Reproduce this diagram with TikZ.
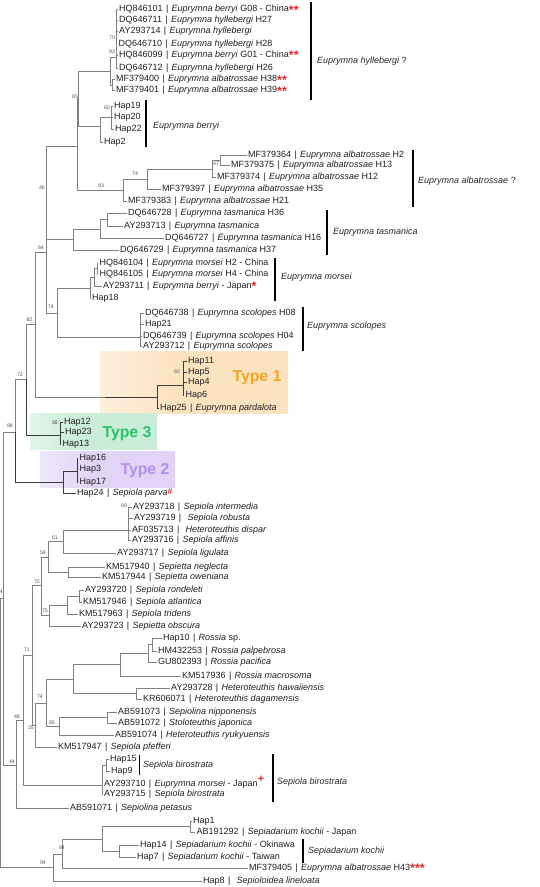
\documentclass[tikz,border=0pt]{standalone}
\usepackage{fontspec}
\setmainfont{Liberation Sans}
\definecolor{treegray}{HTML}{808080}
\definecolor{darkline}{HTML}{3C3C3C}
\definecolor{bsgray}{HTML}{555555}
\definecolor{markred}{HTML}{E4252B}
\definecolor{tonefill}{HTML}{FCE3C0}
\definecolor{tonetext}{HTML}{F5A524}
\definecolor{tthreefill}{HTML}{C9EDD8}
\definecolor{tthreetext}{HTML}{2DC36A}
\definecolor{ttwofill}{HTML}{E2D4F6}
\definecolor{ttwotext}{HTML}{B48FEC}
\pgfdeclarehorizontalshading{shadeone}{100bp}{color(0bp)=(white); color(45bp)=(tonefill); color(100bp)=(tonefill)}
\pgfdeclarehorizontalshading{shadethree}{100bp}{color(0bp)=(white); color(45bp)=(tthreefill); color(100bp)=(tthreefill)}
\pgfdeclarehorizontalshading{shadetwo}{100bp}{color(0bp)=(white); color(45bp)=(ttwofill); color(100bp)=(ttwofill)}
\newcommand\leaffont{\fontsize{9}{10}\selectfont}
\newcommand\cladefont{\fontsize{9}{10}\selectfont\itshape}
\newcommand\bsfont{\fontsize{5.2}{6}\selectfont}
\newcommand\bsep{\hspace{3.3pt}|\hspace{3.3pt}}
\newcommand\stars[1]{\textcolor{markred}{\smash{\raisebox{-2.5pt}{\fontsize{12.5}{12}\selectfont\bfseries #1}}}}
\newcommand\plusmark{\textcolor{markred}{\smash{\raisebox{4pt}{\fontsize{11}{11}\selectfont\bfseries +}}}}
\newcommand\hashmark{\textcolor{markred}{\smash{\raisebox{1pt}{\fontsize{8.5}{9}\selectfont\bfseries\#}}}}
\newcommand\lf[4]{\node[leaf] (#1) at (#2,#3) {#4};}
\newcommand\bsl[4]{\node[bs] (#1) at (#2,#3) {#4};}
\tikzset{
  br/.style={draw=treegray, line width=0.8pt},
  brd/.style={draw=darkline, line width=0.8pt},
  leaf/.style={anchor=west, inner xsep=1.5pt, inner ysep=0pt, font=\leaffont, text height=6.2pt, text depth=1.8pt, text=black!88},
  bs/.style={font=\bsfont, text=bsgray, inner sep=0pt},
  clade/.style={anchor=west, font=\cladefont, inner sep=0pt, text=black!85},
  bar/.style={line width=2.4pt, draw=black},
  thinbar/.style={line width=0.9pt, draw=black},
  typelab/.style={font=\fontsize{15.8}{16}\selectfont\bfseries, inner sep=0pt}
}
\begin{document}
\begin{tikzpicture}[x=1pt,y=-1pt]
\useasboundingbox (0,0) rectangle (540,887);
% type boxes
\shade[shading=shadeone] (100,351) rectangle (288,413);
\shade[shading=shadethree] (30,413) rectangle (157,449);
\shade[shading=shadetwo] (40,451) rectangle (175,487);
\node[typelab, text=tonetext] (ty1) at (257,378) {Type 1};
\node[typelab, text=tthreetext] (ty3) at (127,434) {Type 3};
\node[typelab, text=ttwotext] (ty2) at (145,471) {Type 2};

% internal nodes
\coordinate (root) at (0.4,731);
\coordinate (Nd) at (3,598);
\coordinate (n88) at (15,432);
\coordinate (n72) at (26,379);
\coordinate (n82) at (35,324);
\coordinate (n64) at (46,252);
\coordinate (n46) at (46.8,192);
\coordinate (nOut) at (77.5,146);
\coordinate (n65) at (78.5,98.5);
\coordinate (n110) at (110,71);
\coordinate (nh6) at (116,57);
\coordinate (n112) at (112,85);
\coordinate (n100b) at (100,126);
\coordinate (n111) at (111,117.5);
\coordinate (n93) at (123,190);
\coordinate (n74a) at (147,179);
\coordinate (n212) at (212,169);
\coordinate (n220) at (220,160);
\coordinate (n73t) at (73,239.5);
\coordinate (n100t) at (100,229);
\coordinate (n107t) at (107,219.5);
\coordinate (n74) at (57,313);
\coordinate (n90) at (90,288);
\coordinate (n94m) at (94,277);
\coordinate (n97) at (97,268.5);
\coordinate (n140) at (140,337);
\coordinate (n157) at (157,397);
\coordinate (n183) at (183,385);
\coordinate (n60t) at (60,435);
\coordinate (n63t) at (63,482);
\coordinate (n77) at (77,471);
\coordinate (n44) at (16,765);
\coordinate (n48) at (23,720);
\coordinate (n71) at (32,655);
\coordinate (n72b) at (41,585);
\coordinate (n59) at (48,557);
\coordinate (n61) at (63,541.5);
\coordinate (n89) at (128,530);
\coordinate (nSt) at (68,572);
\coordinate (n75) at (49,615);
\coordinate (n67) at (67,605);
\coordinate (n79) at (79,596);
\coordinate (n25) at (35,725);
\coordinate (n74b) at (46,703);
\coordinate (nRH) at (73,679);
\coordinate (nRos) at (120,664);
\coordinate (nRthree) at (148,653);
\coordinate (nRtwo) at (152,644.5);
\coordinate (nHet) at (136,693.5);
\coordinate (n85) at (59,726);
\coordinate (n107) at (107,717.5);
\coordinate (nbir) at (102,785);
\coordinate (nHp) at (106,765);
\coordinate (n94a) at (53,867);
\coordinate (n94b) at (62,854);
\coordinate (nSk) at (102,839);
\coordinate (n190) at (190,826.5);
\coordinate (n119) at (119,851);

% leaves
\lf{t1}{117.5}{9.3}{HQ846101\bsep\textit{Euprymna berryi} G08 - China\stars{**}}
\lf{t2}{117.5}{20.4}{DQ646711\bsep\textit{Euprymna hyllebergi} H27}
\lf{t3}{117.5}{31.2}{AY293714\bsep\textit{Euprymna hyllebergi}}
\lf{t4}{117}{44}{DQ646710\bsep\textit{Euprymna hyllebergi} H28}
\lf{t5}{117.5}{55}{HQ846099\bsep\textit{Euprymna berryi} G01 - China\stars{**}}
\lf{t6}{117.5}{68}{DQ646712\bsep\textit{Euprymna hyllebergi} H26}
\lf{t7}{114.5}{79.4}{MF379400\bsep\textit{Euprymna albatrossae} H38\stars{**}}
\lf{t8}{114.5}{90.4}{MF379401\bsep\textit{Euprymna albatrossae} H39\stars{**}}
\lf{t9}{112.5}{106}{Hap19}
\lf{t10}{112.5}{117}{Hap20}
\lf{t11}{113.5}{129}{Hap22}
\lf{t12}{102.5}{142}{Hap2}
\lf{t13}{246.5}{155}{MF379364\bsep\textit{Euprymna albatrossae} H2}
\lf{t14}{229.5}{165}{MF379375\bsep\textit{Euprymna albatrossae} H13}
\lf{t15}{215.5}{177}{MF379374\bsep\textit{Euprymna albatrossae} H12}
\lf{t16}{160.5}{189}{MF379397\bsep\textit{Euprymna albatrossae} H35}
\lf{t17}{126.5}{201}{MF379383\bsep\textit{Euprymna albatrossae} H21}
\lf{t18}{126.5}{213}{DQ646728\bsep\textit{Euprymna tasmanica} H36}
\lf{t19}{122.5}{226}{AY293713\bsep\textit{Euprymna tasmanica}}
\lf{t20}{163.5}{238}{DQ646727\bsep\textit{Euprymna tasmanica} H16}
\lf{t21}{118.5}{250}{DQ646729\bsep\textit{Euprymna tasmanica} H37}
\lf{t22}{98}{263}{HQ846104\bsep\textit{Euprymna morsei} H2 - China}
\lf{t23}{98}{274}{HQ846105\bsep\textit{Euprymna morsei} H4 - China}
\lf{t24}{101.5}{286}{AY293711\bsep\textit{Euprymna berryi} - Japan\stars{*}}
\lf{t25}{90.5}{298}{Hap18}
\lf{t26}{143.5}{313}{DQ646738\bsep\textit{Euprymna scolopes} H08}
\lf{t27}{143.5}{324}{Hap21}
\lf{t28}{141.5}{336}{DQ646739\bsep\textit{Euprymna scolopes} H04}
\lf{t29}{141.5}{346}{AY293712\bsep\textit{Euprymna scolopes}}
\lf{t30}{186.5}{361}{Hap11}
\lf{t31}{186.5}{372}{Hap5}
\lf{t32}{186.5}{382}{Hap4}
\lf{t33}{184}{395}{Hap6}
\lf{t34}{158.5}{408}{Hap25\bsep\textit{Euprymna pardalota}}
\lf{t35}{62.5}{422}{Hap12}
\lf{t36}{63.5}{432}{Hap23}
\lf{t37}{61}{444}{Hap13}
\lf{t38}{78}{458}{Hap16}
\lf{t39}{78}{469}{Hap3}
\lf{t40}{78}{482}{Hap17}
\lf{t41}{75.5}{493}{Hap24\bsep\textit{Sepiola parva}\hashmark}
\lf{t42}{131.5}{507}{AY293718\bsep\textit{Sepiola intermedia}}
\lf{t43}{132.5}{518}{AY293719\bsep\hspace{3pt}\textit{Sepiola robusta}}
\lf{t44}{130.5}{530}{AF035713\bsep\hspace{3pt}\textit{Heteroteuthis dispar}}
\lf{t45}{130.5}{540}{AY293716\bsep\textit{Sepiola affinis}}
\lf{t46}{115.5}{553}{AY293717\bsep\textit{Sepiola ligulata}}
\lf{t47}{104.5}{567}{KM517940\bsep\textit{Sepietta neglecta}}
\lf{t48}{100.5}{577}{KM517944\bsep\textit{Sepietta oweniana}}
\lf{t49}{83.5}{590}{AY293720\bsep\textit{Sepiola rondeleti}}
\lf{t50}{81.5}{602}{KM517946\bsep\textit{Sepiola atlantica}}
\lf{t51}{77.5}{614}{KM517963\bsep\textit{Sepiola tridens}}
\lf{t52}{80.5}{626}{AY293723\bsep\textit{Sepietta obscura}}
\lf{t53}{161.5}{638}{Hap10\bsep\textit{Rossia} sp.}
\lf{t54}{156.5}{651}{HM432253\bsep\textit{Rossia palpebrosa}}
\lf{t55}{156.5}{662}{GU802393\bsep\textit{Rossia pacifica}}
\lf{t56}{180.5}{676}{KM517936\bsep\textit{Rossia macrosoma}}
\lf{t57}{169.5}{688}{AY293728\bsep\textit{Heteroteuthis hawaiiensis}}
\lf{t58}{141.5}{699}{KR606071\bsep\textit{Heteroteuthis dagamensis}}
\lf{t59}{116.5}{712}{AB591073\bsep\textit{Sepiolina nipponensis}}
\lf{t60}{116.5}{723}{AB591072\bsep\textit{Stoloteuthis japonica}}
\lf{t61}{113.5}{735}{AB591074\bsep\textit{Heteroteuthis ryukyuensis}}
\lf{t62}{56.5}{747}{KM517947\bsep\textit{Sepiola pfefferi}}
\lf{t63}{108.5}{759}{Hap15}
\lf{t64}{109.5}{771}{Hap9}
\lf{t65}{102.5}{784}{AY293710\bsep\textit{Euprymna morsei} - Japan\plusmark}
\lf{t66}{102.5}{794}{AY293715\bsep\textit{Sepiola birostrata}}
\lf{t67}{68.5}{808}{AB591071\bsep\textit{Sepiolina petasus}}
\lf{t68}{191.5}{821}{Hap1}
\lf{t69}{195}{832}{AB191292\bsep\textit{Sepiadarium kochii} - Japan}
\lf{t70}{138.5}{845}{Hap14\bsep\textit{Sepiadarium kochii} - Okinawa}
\lf{t71}{135.5}{857}{Hap7\bsep\textit{Sepiadarium kochii} - Taiwan}
\lf{t72}{247.5}{868}{MF379405\bsep\textit{Euprymna albatrossae} H43\stars{***}}
\lf{t73}{201.5}{881}{Hap8\bsep\hspace{3pt}\textit{Sepioloidea lineloata}}

% branches
\foreach \p/\c in {root/Nd, root/n94a, Nd/n88, Nd/n44, n88/n72, n72/n82, n82/n64, n82/n157,
  n64/n46, n64/n74, n46/nOut, n46/n73t, nOut/n65, nOut/n93, n65/n110, n65/n100b,
  n110/nh6, n110/n112, nh6/t1, nh6/t2, nh6/t3, nh6/t4, nh6/t5, nh6/t6, n112/t7, n112/t8,
  n100b/n111, n100b/t12, n111/t9, n111/t10, n111/t11,
  n93/n74a, n93/t17, n74a/n212, n74a/t16, n212/n220, n212/t15, n220/t13, n220/t14,
  n73t/n100t, n73t/t21, n100t/n107t, n100t/t20, n107t/t18, n107t/t19,
  n74/n90, n74/n140, n90/n94m, n90/t25, n94m/n97, n94m/t24, n97/t22, n97/t23,
  n140/t26, n140/t27, n140/t28, n140/t29,
  n44/n48, n44/t67, n48/n71, n48/nbir, n71/n72b, n71/n25, n72b/n59, n72b/n75,
  n59/n61, n59/nSt, n61/n89, n61/t46, n89/t42, n89/t43, n89/t44, n89/t45, nSt/t47, nSt/t48,
  n75/n67, n75/t52, n67/n79, n67/t51, n79/t49, n79/t50,
  n25/n74b, n25/t62, n74b/nRH, n74b/n85, nRH/nRos, nRH/nHet, nRos/nRthree, nRos/t56,
  nRthree/nRtwo, nRthree/t55, nRtwo/t53, nRtwo/t54, nHet/t57, nHet/t58,
  n85/n107, n85/t61, n107/t59, n107/t60,
  nbir/nHp, nbir/t65, nbir/t66, nHp/t63, nHp/t64,
  n94a/n94b, n94a/t73, n94b/nSk, n94b/t72, nSk/n190, nSk/n119, n190/t68, n190/t69, n119/t70, n119/t71}
  {\draw[br] (\p) |- (\c);}
\foreach \p/\c in {n88/n63t, n72/n60t, n157/n183, n157/t34, n183/t30, n183/t31, n183/t32, n183/t33,
  n60t/t35, n60t/t36, n60t/t37, n63t/n77, n63t/t41, n77/t38, n77/t39, n77/t40}
  {\draw[brd] (\p) |- (\c);}
\draw[brd] (n157) -- ++(-52,0);

% bootstrap values
\bsl{b1}{112}{38}{70}
\bsl{b2}{112}{52}{92}
\bsl{b3}{75}{97}{65}
\bsl{b4}{107}{108}{60}
\bsl{b5}{216}{164}{47}
\bsl{b6}{135}{174}{74}
\bsl{b7}{101}{186}{93}
\bsl{b8}{42}{188}{46}
\bsl{b9}{41}{248}{64}
\bsl{b10}{51}{307}{74}
\bsl{b11}{29.5}{320}{82}
\bsl{b12}{177}{372}{92}
\bsl{b13}{20}{375}{72}
\bsl{b14}{10}{426}{88}
\bsl{b15}{55}{423}{88}
\bsl{b16}{124}{506}{89}
\bsl{b17}{55}{538}{61}
\bsl{b18}{43}{553}{59}
\bsl{b19}{37}{582}{72}
\node[bs, anchor=east] (b20) at (3,592) {4};
\bsl{b21}{45}{611}{75}
\bsl{b22}{27}{650}{71}
\bsl{b23}{40}{697}{74}
\bsl{b24}{17}{717}{48}
\bsl{b25}{52}{723}{85}
\bsl{b26}{31}{728}{25}
\bsl{b27}{12}{762}{44}
\bsl{b28}{62}{848}{94}
\bsl{b29}{43}{863}{94}

% clade bars and labels
\draw[bar] (311,2) -- (311,100);
\node[clade] (c1) at (317,61) {Euprymna hyllebergi\upshape\ ?};
\draw[bar] (146,100) -- (146,147);
\node[clade] (c2) at (153,126) {Euprymna berryi};
\draw[bar] (413,150) -- (413,207);
\node[clade] (c3) at (418,181) {Euprymna albatrossae\upshape\ ?};
\draw[bar] (327,210) -- (327,255);
\node[clade] (c4) at (333,232) {Euprymna tasmanica};
\draw[bar] (275,258) -- (275,301);
\node[clade] (c5) at (281,277) {Euprymna morsei};
\draw[bar] (303,307) -- (303,351);
\node[clade] (c6) at (307,326) {Euprymna scolopes};
\draw[thinbar] (139,755) -- (139,775);
\node[clade] (c7) at (143,765) {Sepiola birostrata};
\draw[bar] (273,754) -- (273,802);
\node[clade] (c8) at (277,782) {Sepiola birostrata};
\draw[bar] (303,839) -- (303,863);
\node[clade] (c9) at (308,851) {Sepiadarium kochii};
\end{tikzpicture}
\end{document}
